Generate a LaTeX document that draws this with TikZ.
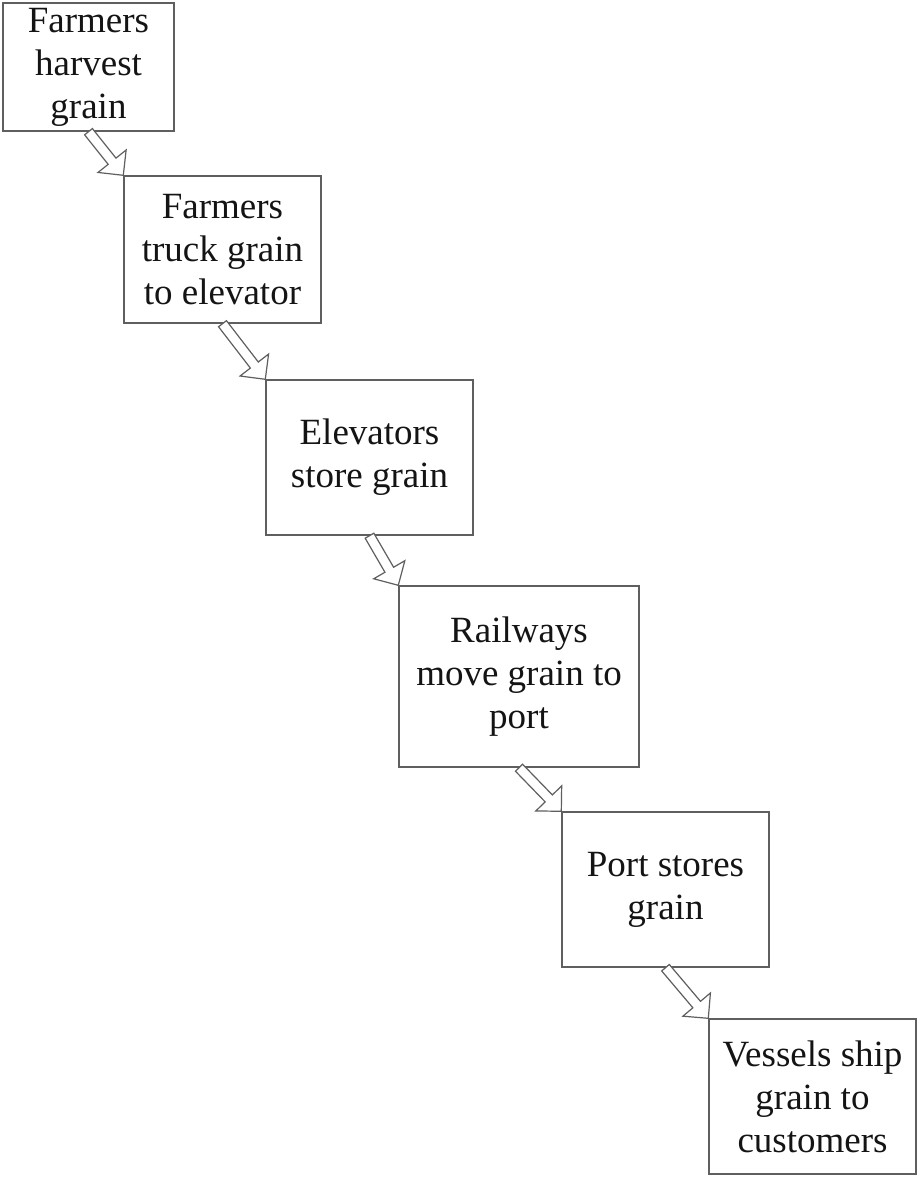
\documentclass[tikz,border=0pt]{standalone}
\usepackage{fontspec}
\setmainfont{Liberation Serif}
\usetikzlibrary{calc}

\tikzset{
  stepbox/.style={draw=edge, line width=0.7pt, align=center, inner sep=0pt,
    text=ink, font=\fontsize{18.5}{21.5}\selectfont},
  blockarrow/.style={draw=edge, fill=white, line width=0.6pt, line join=miter,
    to path={
      let \p1=(\tikztostart), \p2=(\tikztotarget),
          \n1={atan2(\y2-\y1,\x2-\x1)} in
      ($(\p1)+(\n1+90:2.5pt)$) -- ($(\p1)+(\n1-90:2.5pt)$)
      -- ($(\p2)+(\n1+180:9pt)+(\n1-90:2.5pt)$)
      -- ($(\p2)+(\n1+180:9pt)+(\n1-90:9pt)$)
      -- (\p2)
      -- ($(\p2)+(\n1+180:9pt)+(\n1+90:9pt)$)
      -- ($(\p2)+(\n1+180:9pt)+(\n1+90:2.5pt)$) -- cycle}}
}

\begin{document}
\begin{tikzpicture}[x=0.5pt,y=-0.5pt]
  \definecolor{ink}{RGB}{20,20,20}
  \definecolor{edge}{RGB}{95,95,95}

  \useasboundingbox (0,0) rectangle (917,1177);

  % steps of the grain chain
  \node[stepbox, minimum width=85.5pt, minimum height=64pt] (harvest) at (88.5,67)
    {Farmers\\harvest\\grain};
  \node[stepbox, minimum width=98.5pt, minimum height=73.5pt] (truck) at (222.5,249.5)
    {Farmers\\truck grain\\to elevator};
  \node[stepbox, minimum width=103.5pt, minimum height=77.5pt] (elevator) at (369.5,457.5)
    {Elevators\\store grain};
  \node[stepbox, minimum width=120pt, minimum height=90.5pt] (railway) at (519,676.5)
    {Railways\\move grain to\\port};
  \node[stepbox, minimum width=103.5pt, minimum height=77.5pt] (port) at (665.5,889.5)
    {Port stores\\grain};
  \node[stepbox, minimum width=103.5pt, minimum height=77.5pt] (vessel) at (812.5,1096.5)
    {Vessels ship\\grain to\\customers};

  % hollow arrows between steps
  \foreach \a/\b in {harvest/truck, truck/elevator, elevator/railway,
                     railway/port, port/vessel} {
    \draw[blockarrow] (\a.south) to (\b.north west);
  }
\end{tikzpicture}
\end{document}
